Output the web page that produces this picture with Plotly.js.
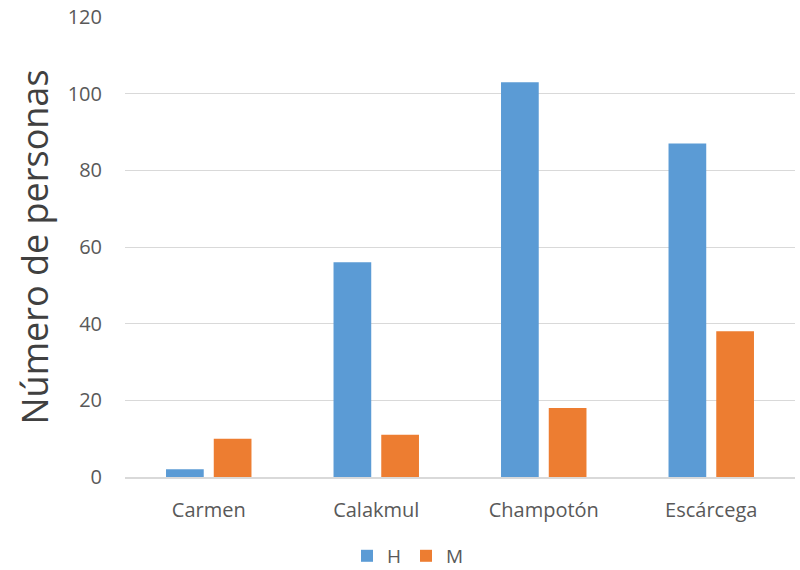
<!DOCTYPE html>
<html><head><meta charset="utf-8">
<script src="https://cdn.plot.ly/plotly-3.0.1.min.js"></script>
<style>html,body{margin:0;padding:0;background:#fff}#chart{width:800px;height:570px}</style>
</head><body><div id="chart"></div>
<script>
const categories = ["Carmen", "Calakmul", "Champotón", "Escárcega"];
const hValues = [2, 56, 103, 87];
const mValues = [10, 11, 18, 38];
const yTicks = [0, 20, 40, 60, 80, 100, 120];

const traces = [
  {type: "bar", name: "H", x: categories, y: hValues, marker: {color: "#5B9BD5"}},
  {type: "bar", name: "M", x: categories, y: mValues, marker: {color: "#ED7D31"}}
];
const layout = {
  width: 800, height: 570,
  margin: {l: 125, r: 5, t: 17, b: 93},
  paper_bgcolor: "#fff", plot_bgcolor: "#fff",
  font: {family: "Open Sans, sans-serif", color: "#595959", size: 20},
  barmode: "group", bargap: 0.43, bargroupgap: 0.21,
  showlegend: true,
  legend: {orientation: "h", x: 0.51, xref: "container", xanchor: "center", y: 0.058, yref: "container", yanchor: "top",
           font: {size: 19, color: "#595959"}, itemwidth: 30, traceorder: "normal"},
  xaxis: {showgrid: false, showline: true, linecolor: "#D9D9D9", linewidth: 1.5, ticks: "", tickfont: {size: 20}, ticklabelstandoff: 14},
  yaxis: {range: [0, 120], tickvals: yTicks, showgrid: true, gridcolor: "#D9D9D9", gridwidth: 1, zeroline: false,
          ticks: "", tickfont: {size: 20}, ticklabelstandoff: 22,
          title: {text: "Número de personas", font: {size: 36, color: "#404040"}, standoff: 8}}
};
Plotly.newPlot("chart", traces, layout, {displayModeBar: false});
</script></body></html>
